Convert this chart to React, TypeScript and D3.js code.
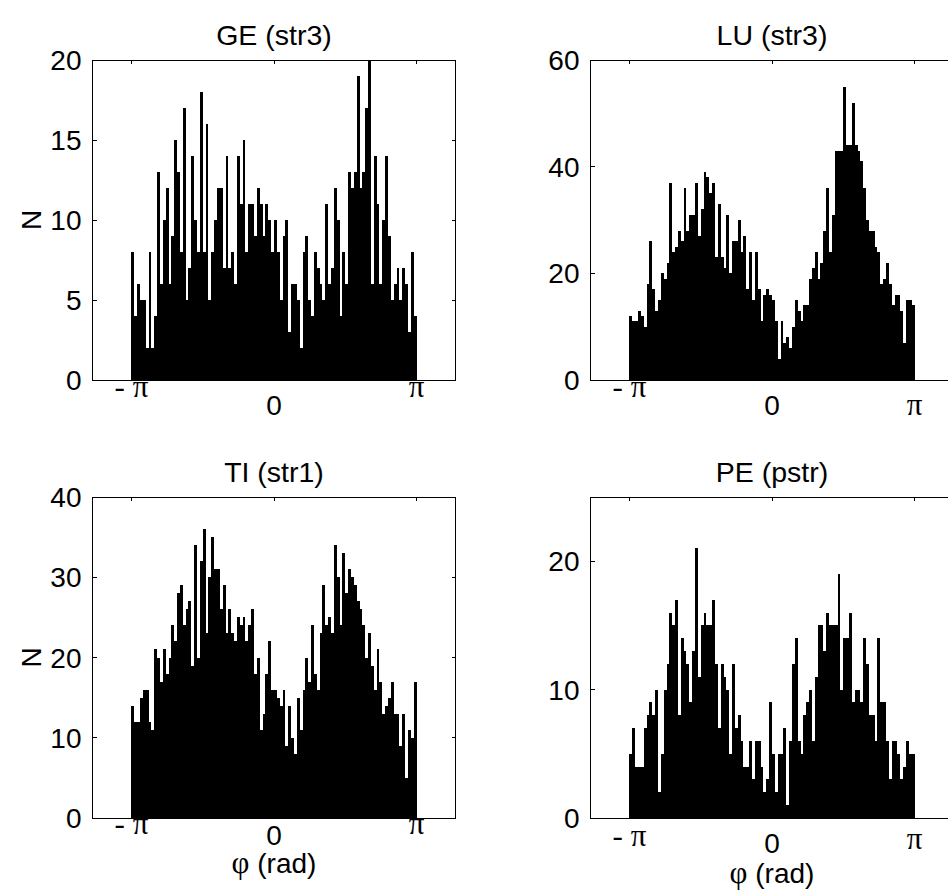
import React from 'react';
import * as d3 from 'd3';

// ---- data (counts per bin, 100 bins from -π to π) ----
const geCounts = [
  8, 4, 6, 5, 5, 2, 8, 2, 4, 13,
  6, 10, 12, 6, 9, 15, 13, 8, 17, 5,
  7, 14, 10, 8, 18, 8, 16, 5, 8, 10,
  12, 12, 7, 14, 7, 8, 6, 14, 11, 15,
  8, 11, 11, 9, 12, 11, 9, 11, 10, 8,
  10, 8, 5, 9, 10, 3, 6, 6, 5, 2,
  8, 9, 5, 4, 8, 7, 6, 5, 11, 6,
  7, 12, 10, 4, 8, 6, 13, 12, 13, 19,
  12, 13, 17, 20, 6, 14, 11, 6, 10, 14,
  9, 5, 6, 7, 5, 7, 6, 3, 8, 4,
];
const luCounts = [
  12, 11, 11, 13, 12, 10, 18, 26, 17, 13,
  15, 20, 19, 22, 37, 24, 25, 28, 26, 36,
  28, 31, 31, 37, 27, 32, 39, 38, 35, 37,
  23, 33, 23, 21, 31, 20, 26, 26, 30, 24,
  27, 17, 24, 15, 24, 17, 11, 16, 17, 16,
  15, 11, 4, 11, 7, 8, 6, 10, 15, 13,
  11, 14, 14, 19, 21, 24, 19, 22, 28, 36,
  24, 31, 43, 43, 43, 55, 44, 44, 52, 44,
  43, 41, 36, 30, 28, 28, 25, 24, 18, 19,
  22, 18, 14, 16, 16, 13, 7, 15, 15, 14,
];
const tiCounts = [
  14, 12, 12, 15, 16, 16, 12, 11, 21, 20,
  17, 21, 18, 20, 24, 22, 28, 29, 24, 26,
  27, 19, 34, 20, 32, 36, 23, 30, 35, 31,
  31, 26, 29, 23, 26, 23, 22, 25, 24, 25,
  22, 24, 26, 18, 20, 11, 13, 18, 22, 16,
  16, 15, 14, 16, 9, 14, 10, 8, 15, 11,
  16, 20, 17, 24, 18, 16, 23, 29, 24, 25,
  23, 34, 30, 24, 33, 28, 31, 30, 29, 27,
  26, 24, 20, 23, 19, 16, 21, 17, 13, 14,
  15, 17, 13, 13, 9, 13, 5, 11, 10, 17,
];
const peCounts = [
  5, 7, 4, 4, 4, 7, 8, 9, 8, 10,
  2, 5, 10, 12, 16, 15, 17, 8, 14, 13,
  12, 9, 13, 21, 11, 15, 16, 15, 15, 17,
  12, 7, 12, 11, 10, 5, 12, 7, 8, 6,
  4, 4, 6, 3, 6, 6, 4, 2, 3, 9,
  5, 2, 5, 5, 7, 1, 6, 12, 14, 6,
  5, 8, 9, 10, 6, 11, 15, 15, 13, 16,
  15, 15, 15, 19, 10, 14, 14, 16, 9, 10,
  10, 9, 14, 12, 8, 8, 6, 14, 9, 9,
  6, 3, 6, 6, 5, 3, 4, 6, 5, 5,
];

const titles = ['GE (str3)', 'LU (str3)', 'TI (str1)', 'PE (pstr)'];
const yMaxes = [20, 60, 40, 25];
const yTickValues = [
  [0, 5, 10, 15, 20],
  [0, 20, 40, 60],
  [0, 10, 20, 30, 40],
  [0, 10, 20],
];
const xTickValues = [-Math.PI, 0, Math.PI];
const xTickLabels = ['- π', '0', 'π'];
const yLabel = 'N';
const xLabel = 'φ (rad)';
const seriesList = [geCounts, luCounts, tiCounts, peCounts];

// ---- layout ----
const W = 948;
const H = 891;
const FONT = '"Liberation Sans", Arial, Helvetica, sans-serif';
const SYM = '"Liberation Serif", "DejaVu Serif", serif';
const layouts = [
  { left: 92.5, top: 60, bottom: 380, titleY: 45, showY: true, showX: false, xLabY: [397, 415, 397], xTitleY: 0 },
  { left: 590.5, top: 60, bottom: 380, titleY: 45, showY: false, showX: false, xLabY: [397, 415, 415], xTitleY: 0 },
  { left: 92.5, top: 497, bottom: 818, titleY: 482, showY: true, showX: true, xLabY: [834, 845, 834], xTitleY: 873 },
  { left: 590.5, top: 497, bottom: 818, titleY: 482, showY: false, showX: true, xLabY: [846, 853, 849], xTitleY: 883 },
];
const PW = 363;
const TICK = 4;

function Panel({ idx }: { idx: number }) {
  const lay = layouts[idx];
  const counts = seriesList[idx];
  const n = counts.length;
  const x = d3.scaleLinear().domain([-4, 4]).range([lay.left, lay.left + PW]);
  const y = d3.scaleLinear().domain([0, yMaxes[idx]]).range([lay.bottom, lay.top]);
  const bin = d3.scaleLinear().domain([0, n]).range([-Math.PI, Math.PI]);
  const right = lay.left + PW;
  const cx = lay.left + PW / 2;
  return (
    <g>
      <g shapeRendering="crispEdges">
        {counts.map((v, i) => {
          const x0 = x(bin(i));
          const x1 = x(bin(i + 1));
          return (
            <rect key={i} x={x0} y={y(v)} width={x1 - x0} height={y(0) - y(v)} fill="#000" />
          );
        })}
      </g>
      <rect x={lay.left} y={lay.top} width={PW} height={lay.bottom - lay.top} fill="none" stroke="#000" strokeWidth={1} shapeRendering="crispEdges" />
      {yTickValues[idx].map((t) => (
        <g key={'y' + t}>
          <line x1={lay.left} x2={lay.left + TICK} y1={y(t)} y2={y(t)} stroke="#000" shapeRendering="crispEdges" />
          <line x1={right} x2={right - TICK} y1={y(t)} y2={y(t)} stroke="#000" shapeRendering="crispEdges" />
          <text x={lay.left - 11} y={y(t)} dy="0.36em" textAnchor="end" fontSize={28} fontFamily={FONT}>{t}</text>
        </g>
      ))}
      {xTickValues.map((t, k) => (
        <g key={'x' + k}>
          <line x1={x(t)} x2={x(t)} y1={lay.bottom} y2={lay.bottom - TICK} stroke="#000" shapeRendering="crispEdges" />
          <line x1={x(t)} x2={x(t)} y1={lay.top} y2={lay.top + TICK} stroke="#000" shapeRendering="crispEdges" />
          <text x={x(t)} y={lay.xLabY[k]} textAnchor="middle" fontSize={k === 1 ? 28 : 31} fontFamily={k === 1 ? FONT : SYM}>{xTickLabels[k]}</text>
        </g>
      ))}
      <text x={cx} y={lay.titleY} textAnchor="middle" fontSize={28.5} fontFamily={FONT}>{titles[idx]}</text>
      {lay.showY && (
        <text transform={`translate(41, ${(lay.top + lay.bottom) / 2}) rotate(-90)`} textAnchor="middle" fontSize={28} fontFamily={FONT}>{yLabel}</text>
      )}
      {lay.showX && (
        <text x={cx} y={lay.xTitleY} textAnchor="middle" fontSize={28} fontFamily={FONT}>
          <tspan fontFamily={SYM} fontSize={31}>{xLabel.slice(0, 1)}</tspan>
          <tspan>{xLabel.slice(1)}</tspan>
        </text>
      )}
    </g>
  );
}

export default function App() {
  return (
    <svg width={W} height={H} viewBox={`0 0 ${W} ${H}`} style={{ position: 'absolute', left: 0, top: 0, background: '#fff' }}>
      <rect x={0} y={0} width={W} height={H} fill="#fff" />
      {[0, 1, 2, 3].map((i) => (
        <Panel key={i} idx={i} />
      ))}
    </svg>
  );
}
